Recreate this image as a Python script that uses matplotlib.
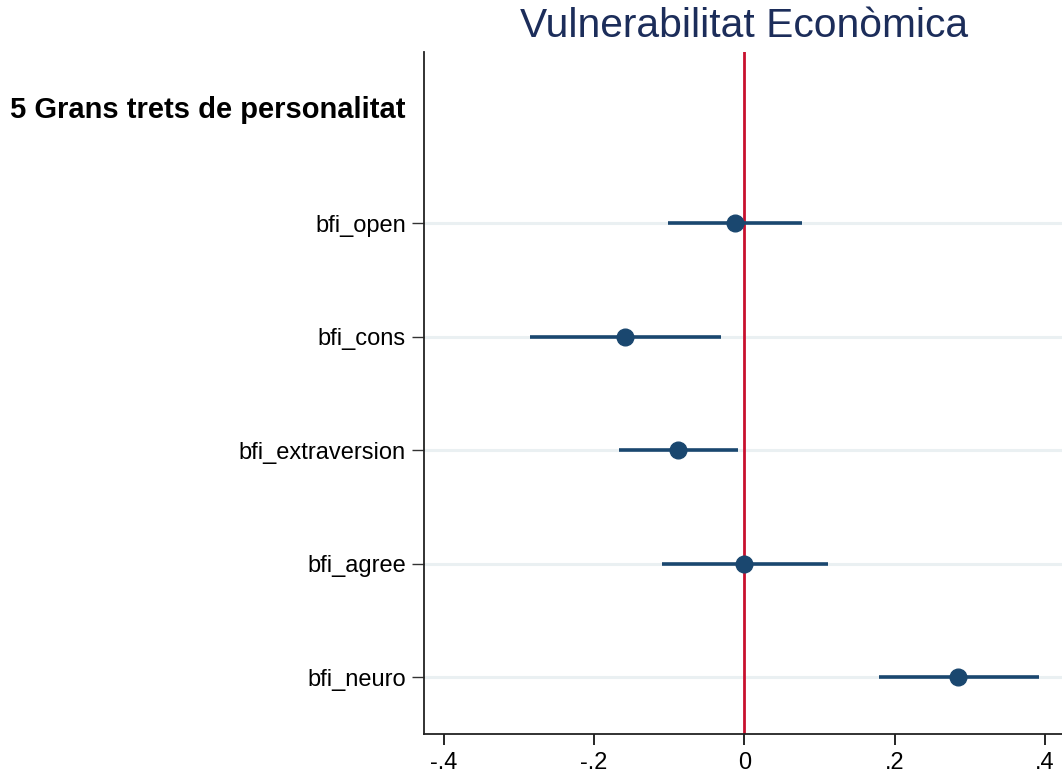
import matplotlib
matplotlib.use("Agg")
from matplotlib import pyplot as plt
import matplotlib.transforms as mtransforms

# coefficients and 95% CI
labels = ['bfi_open', 'bfi_cons', 'bfi_extraversion', 'bfi_agree', 'bfi_neuro']
coef = [-0.012, -0.159, -0.088, 0.000, 0.285]
ci_low = [-0.101, -0.285, -0.167, -0.109, 0.180]
ci_high = [0.077, -0.031, -0.008, 0.111, 0.392]
header = '5 Grans trets de personalitat'
title = 'Vulnerabilitat Econòmica'
xticks = [-0.4, -0.2, 0, 0.2, 0.4]
xticklabels = ['-.4', '-.2', '0', '.2', '.4']

plt.rcParams['font.family'] = ['Liberation Sans', 'DejaVu Sans']

navy = '#1a476f'
fig = plt.figure(figsize=(10.62, 7.78), dpi=100)
ax = fig.add_axes([424 / 1062, 44 / 778, 638 / 1062, 682 / 778])

ypos = list(range(1, len(labels) + 1))

# light horizontal grid at each row
for y in ypos:
    ax.axhline(y, color='#eaf0f2', lw=2.2, zorder=0)

ax.axvline(0, color='#c8102e', lw=2.0, zorder=1)
ax.hlines(ypos, ci_low, ci_high, color=navy, lw=2.6, zorder=2)
ax.plot(coef, ypos, 'o', color=navy, markersize=12, zorder=3)

ax.set_ylim(5.5, -0.51)
ax.set_xlim(-0.4265, 0.423)
ax.set_yticks(ypos)
ax.set_yticklabels(labels, fontsize=17)
ax.set_xticks(xticks)
ax.set_xticklabels(xticklabels, fontsize=17)
ax.tick_params(axis='x', length=8, width=1.2, pad=5)
ax.tick_params(axis='y', length=9, width=1.0, pad=4, color='#333333')

for side in ['top', 'right']:
    ax.spines[side].set_visible(False)
for side in ['left', 'bottom']:
    ax.spines[side].set_linewidth(1.3)
    ax.spines[side].set_color('#222222')

# group header on row 0, starting at the figure's left edge
trans = mtransforms.blended_transform_factory(fig.transFigure, ax.transData)
ax.text(10 / 1062, 0, header, transform=trans, ha='left', va='center',
        fontsize=21, fontweight='bold')

fig.text(744 / 1062, 1 - 37 / 778, title, ha='center', va='baseline',
         fontsize=29.3, color='#1c2d5a')

plt.savefig('out.png', dpi=100)
